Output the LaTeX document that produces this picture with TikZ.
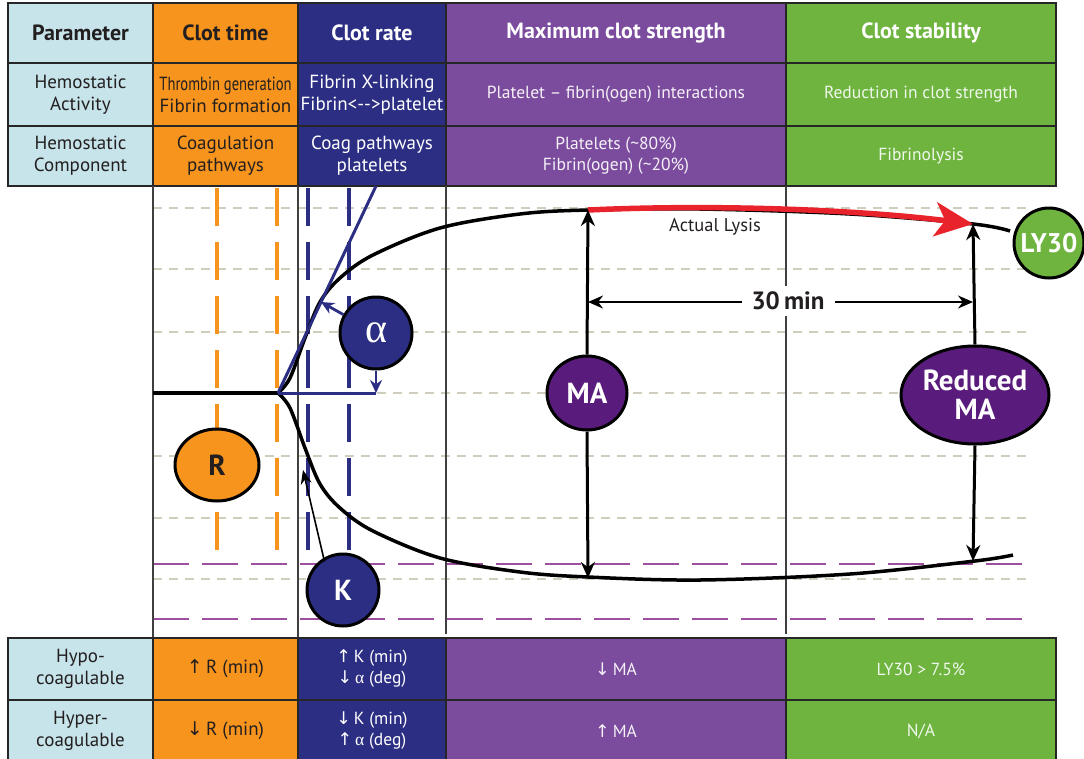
\documentclass[tikz,border=0pt]{standalone}
\usepackage{fontspec}
\setmainfont{PT Sans}
\newfontfamily\grk{Liberation Serif}
\newfontfamily\arw{DejaVu Sans}
\usetikzlibrary{arrows.meta,shapes.geometric}
\definecolor{lblue}{HTML}{C6E4EA}
\definecolor{corange}{HTML}{F7941D}
\definecolor{cnavy}{HTML}{2B2E83}
\definecolor{cpurple}{HTML}{7B4C9E}
\definecolor{cgreen}{HTML}{6EB43F}
\definecolor{dpurple}{HTML}{5A1C7C}
\definecolor{gdash}{HTML}{CFCDBB}
\definecolor{pdash}{HTML}{9E4FA0}
\definecolor{cred}{HTML}{E8232B}
\definecolor{dtext}{HTML}{231F20}
\newcommand{\up}{{\arw\char"2191}}
\newcommand{\dn}{{\arw\char"2193}}
\newcommand{\al}{{\grk α}}
\begin{document}
\begin{tikzpicture}[x=1pt,y=-1pt,
  cell/.style={draw=black!85, line width=1.6pt, inner sep=0pt, outer sep=0pt, align=center},
  hdr/.style={font=\fontsize{22}{24}\selectfont\bfseries},
  body/.style={font=\fontsize{19}{22}\selectfont},
  sbody/.style={font=\fontsize{17.5}{21}\selectfont},
  griddash/.style={gdash, line width=1.6pt, dash pattern=on 9pt off 7pt},
  pdashed/.style={pdash, line width=1.8pt, dash pattern=on 36pt off 13pt},
  odashed/.style={corange, line width=3.6pt, dash pattern=on 38pt off 16pt},
  bdashed/.style={cnavy, line width=3.4pt, dash pattern=on 38pt off 16pt},
  vline/.style={black!75, line width=1.2pt},
  curve/.style={black, line width=3.5pt},
  bubble/.style={draw=black, line width=3pt, inner sep=0pt, align=center, font=\fontsize{29}{29}\selectfont\bfseries},
  maarrow/.style={black, line width=3pt, -{Stealth[length=16pt,width=14pt]}},
  bluearrow/.style={cnavy, line width=2.8pt, -{Stealth[length=13pt,width=12pt]}}
]
\useasboundingbox (0,0) rectangle (1084,758);
% ---------- table top ----------
\node[cell, hdr, fill=lblue, text=dtext, minimum width=145pt, minimum height=60pt] (p1) at (80.5,33) {Parameter};
\node[cell, hdr, fill=corange, text=dtext, minimum width=145pt, minimum height=60pt] (t1) at (225.5,33) {Clot time};
\node[cell, hdr, fill=cnavy, text=white, minimum width=148pt, minimum height=60pt] (r1) at (372,33) {Clot rate};
\node[cell, hdr, fill=cpurple, text=white, minimum width=340pt, minimum height=60pt] (m1) at (616,33) {Maximum clot strength};
\node[cell, hdr, fill=cgreen, text=white, minimum width=270pt, minimum height=60pt] (s1) at (921,33) {Clot stability};

\node[cell, body, fill=lblue, text=dtext, minimum width=145pt, minimum height=63pt] (p2) at (80.5,94.5) {Hemostatic\\Activity};
\node[cell, body, fill=corange, text=dtext, minimum width=145pt, minimum height=63pt] (t2) at (225.5,94.5) {\scalebox{0.77}[1]{Thrombin generation}\\Fibrin formation};
\node[cell, body, fill=cnavy, text=white, minimum width=148pt, minimum height=63pt] (r2) at (372,94.5) {Fibrin X-linking\\Fibrin<-{}->platelet};
\node[cell, sbody, fill=cpurple, text=white!92!cpurple, minimum width=340pt, minimum height=63pt] (m2) at (616,94.5) {Platelet -- fibrin(ogen) interactions};
\node[cell, sbody, fill=cgreen, text=white!90!cgreen, minimum width=270pt, minimum height=63pt] (s2) at (921,94.5) {Reduction in clot strength};

\node[cell, body, fill=lblue, text=dtext, minimum width=145pt, minimum height=60pt] (p3) at (80.5,156) {Hemostatic\\Component};
\node[cell, body, fill=corange, text=dtext, minimum width=145pt, minimum height=60pt] (t3) at (225.5,156) {Coagulation\\pathways};
\node[cell, body, fill=cnavy, text=white, minimum width=148pt, minimum height=60pt] (r3) at (372,156) {Coag pathways\\platelets};
\node[cell, sbody, fill=cpurple, text=white!92!cpurple, minimum width=340pt, minimum height=60pt] (m3) at (616,156) {Platelets (\textasciitilde 80\%)\\Fibrin(ogen) (\textasciitilde 20\%)};
\node[cell, sbody, fill=cgreen, text=white!90!cgreen, minimum width=270pt, minimum height=60pt] (s3) at (921,156) {Fibrinolysis};

% ---------- grid in plot area ----------
\foreach \yy in {208,269,332,393,456,518,579}
  \draw[griddash] (153,\yy) -- (1030,\yy);
\foreach \yy in {564,619}
  \draw[pdashed] (153,\yy) -- (1030,\yy);
\draw[vline] (153,186) -- (153,638);
\draw[vline] (298,186) -- (298,638);
\draw[vline] (446,186) -- (446,634);
\draw[vline] (786,186) -- (786,634);
\draw[odashed] (217,188) -- (217,560);
\draw[odashed] (277,188) -- (277,560);
\draw[bdashed] (308,188) -- (308,560);
\draw[bdashed] (349,188) -- (349,560);

% ---------- curves ----------
\coordinate (start) at (278,393);
\draw[curve] (153,393) -- (start);
\draw[curve] plot[smooth, tension=0.55] coordinates {(278,393) (290,378) (305,338) (320,302) (340,278) (373,255) (440,228) (520,214) (588,210) (700,209) (850,214) (973,224) (1010,231)};
\draw[curve] plot[smooth, tension=0.55] coordinates {(278,393) (290,408) (305,448) (320,484) (340,508) (373,531) (440,558) (520,572) (588,577) (700,580) (850,574) (975,561) (1013,555)};

% blue tangent + baseline
\coordinate (tantop) at (376,186);
\coordinate (abase) at (376,393);
\coordinate (atouch) at (321,302);
\draw[cnavy, line width=3pt] (start) -- (tantop);
\draw[cnavy, line width=3pt] (start) -- (abase);

% red lysis arrow
\coordinate (matop) at (588,210);
\coordinate (rmtop) at (973,224);
\draw[cred, line width=5.5pt, -{Stealth[length=38pt,width=34pt,inset=10pt]}] (matop) .. controls (720,204) and (860,210) .. (rmtop);
\node[font=\fontsize{18.5}{18.5}\selectfont, text=dtext] (lys) at (715,227) {Actual Lysis};

% bubbles
\node[bubble, circle, fill=cnavy, text=white, minimum size=72pt, font=\fontsize{42}{42}\selectfont] (alpha) at (376,333) {\al};
\node[bubble, ellipse, fill=corange, text=dtext, minimum width=84pt, minimum height=72pt] (R) at (217,465) {R};
\node[bubble, circle, fill=cnavy, text=white, minimum size=72pt] (K) at (343,590) {K};
\node[bubble, ellipse, fill=dpurple, text=white, minimum width=80pt, minimum height=74pt] (MA) at (587,393) {MA};
\node[bubble, ellipse, fill=dpurple, text=white, minimum width=148pt, minimum height=98pt, font=\fontsize{29}{29}\selectfont\bfseries] (RMA) at (975,395) {Reduced\\MA};
\node[bubble, circle, fill=cgreen, text=white, minimum size=70pt, font=\fontsize{27}{27}\selectfont\bfseries] (LY) at (1049,243) {LY30};

% arrows
\draw[bluearrow] (alpha) -- (atouch);
\draw[bluearrow] (alpha.south) -- (abase);
\coordinate (ktip) at (303,470);
\draw[black, line width=1.6pt, -{Stealth[length=14pt,width=11pt]}] (K.north west) ++(8,-2) -- (ktip);
\coordinate (mabot) at (588,578);
\coordinate (rmbot) at (973,561);
\draw[maarrow] (MA.north) -- (matop);
\draw[maarrow] (MA.south) -- (mabot);
\draw[maarrow] (RMA.north) -- (rmtop);
\draw[maarrow] (RMA.south) -- (rmbot);
% 30 min
\coordinate (d1) at (588,302);
\coordinate (d2) at (973,302);
\draw[black, line width=2pt, {Stealth[length=15pt,width=13pt]}-{Stealth[length=15pt,width=13pt]}] (d1) -- (d2);
\node[fill=white, inner xsep=10pt, inner ysep=6pt, font=\fontsize{25}{25}\selectfont\bfseries, text=dtext] (thirty) at (788,301) {30\,min};

% ---------- table bottom ----------
\node[cell, body, fill=lblue, text=dtext, minimum width=145pt, minimum height=62pt] (p4) at (80.5,669) {Hypo-\\coagulable};
\node[cell, body, fill=corange, text=dtext, minimum width=145pt, minimum height=62pt] (t4) at (225.5,669) {\up\,R (min)};
\node[cell, sbody, fill=cnavy, text=white, minimum width=148pt, minimum height=62pt] (r4) at (372,669) {\up\,K (min)\\\dn\,\al\ (deg)};
\node[cell, sbody, fill=cpurple, text=white!92!cpurple, minimum width=340pt, minimum height=62pt] (m4) at (616,669) {\dn\,MA};
\node[cell, sbody, fill=cgreen, text=white!90!cgreen, minimum width=270pt, minimum height=62pt] (s4) at (921,669) {LY30 > 7.5\%};

\node[cell, body, fill=lblue, text=dtext, minimum width=145pt, minimum height=62pt] (p5) at (80.5,731) {Hyper-\\coagulable};
\node[cell, body, fill=corange, text=dtext, minimum width=145pt, minimum height=62pt] (t5) at (225.5,731) {\dn\,R (min)};
\node[cell, sbody, fill=cnavy, text=white, minimum width=148pt, minimum height=62pt] (r5) at (372,731) {\dn\,K (min)\\\up\,\al\ (deg)};
\node[cell, sbody, fill=cpurple, text=white!92!cpurple, minimum width=340pt, minimum height=62pt] (m5) at (616,731) {\up\,MA};
\node[cell, sbody, fill=cgreen, text=white!90!cgreen, minimum width=270pt, minimum height=62pt] (s5) at (921,731) {N/A};
\end{tikzpicture}
\end{document}
